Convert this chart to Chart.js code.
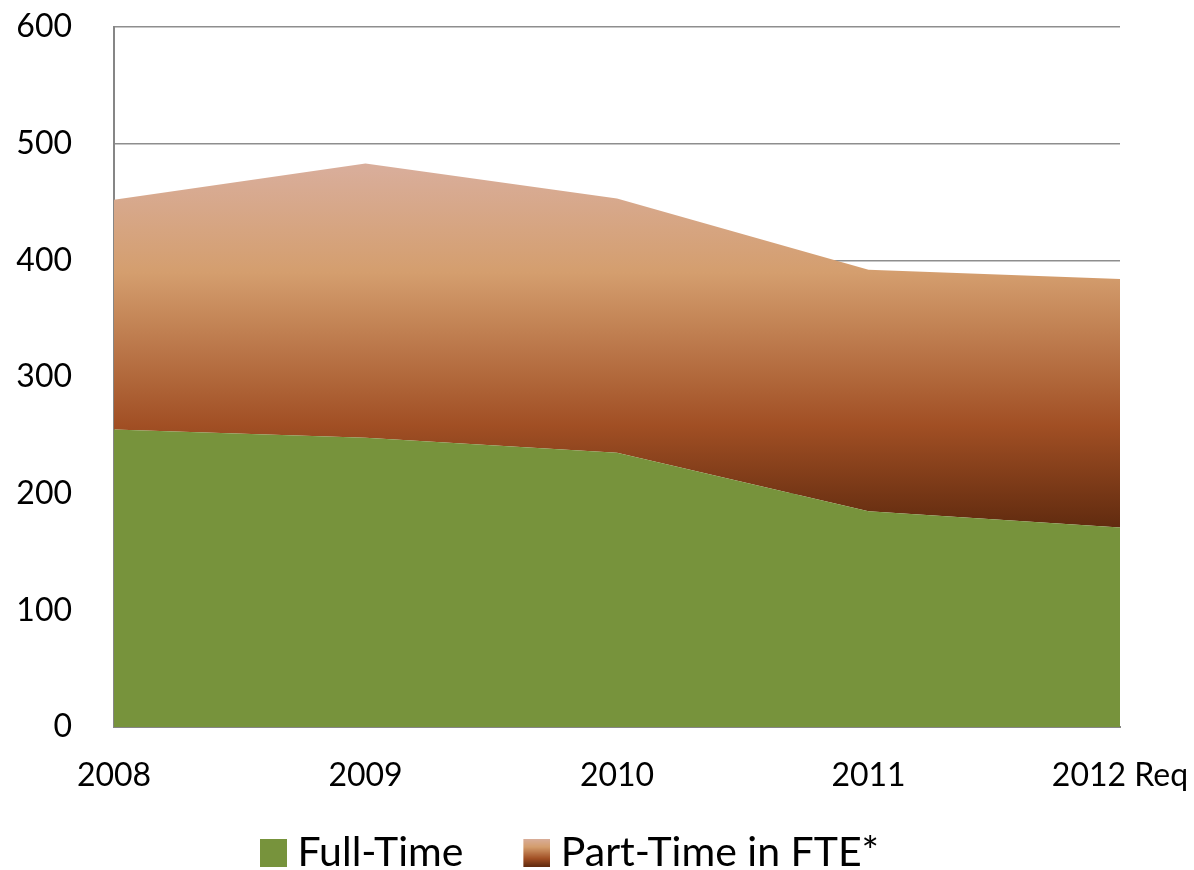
<!DOCTYPE html>
<html>
<head>
<meta charset="utf-8">
<script src="https://cdn.jsdelivr.net/npm/chart.js@4.4.0/dist/chart.umd.min.js"></script>
<style>
  html, body { margin: 0; padding: 0; background: #fff; }
</style>
</head>
<body>
<canvas id="staffChart" width="1194" height="870"></canvas>
<script>
// данные графика
const years = ['2008', '2009', '2010', '2011', '2012 Req'];
const fullTime = [255, 248, 235, 185, 171];
const partTime = [197, 235, 218, 207, 213];
const yTicks = [0, 100, 200, 300, 400, 500, 600];

const FONT = 'Lato, "Open Sans", sans-serif';
const GREEN = '#77933c';
const PART_STOPS = [
    [0, '#d9ae9c'],
    [0.3, '#d49e6e'],
    [0.72, '#a14f24'],
    [1, '#612b0f']
];

// градиент для области Part-Time
function partGradient(context) {
    const chart = context.chart;
    const { chartArea, scales } = chart;
    if (!chartArea) return PART_STOPS[1][1];
    const totals = fullTime.map((v, i) => v + partTime[i]);
    const top = scales.y.getPixelForValue(Math.max(...totals));
    const bottom = scales.y.getPixelForValue(Math.min(...fullTime));
    const g = chart.ctx.createLinearGradient(0, top, 0, bottom);
    PART_STOPS.forEach(s => g.addColorStop(s[0], s[1]));
    return g;
}

// значки легенды: квадрат 27x28 справа в прозрачном холсте
function legendSwatch(fill) {
    const c = document.createElement('canvas');
    c.width = 56;
    c.height = 28;
    const cx = c.getContext('2d');
    if (fill === 'gradient') {
        const g = cx.createLinearGradient(0, 0, 0, 28);
        PART_STOPS.forEach(s => g.addColorStop(s[0], s[1]));
        cx.fillStyle = g;
    } else {
        cx.fillStyle = fill;
    }
    cx.fillRect(29, 0, 27, 28);
    return c;
}
const swatches = [legendSwatch(GREEN), legendSwatch('gradient')];

// фиксированная высота легенды
const legendHeight = {
    id: 'legendHeight',
    beforeLayout(chart) {
        const lg = chart.legend;
        if (lg && !lg._fixed) {
            const fit = lg.fit.bind(lg);
            lg.fit = function() { fit(); this.height = 79; };
            lg._fixed = true;
        }
    }
};

const ctx = document.getElementById('staffChart').getContext('2d');
new Chart(ctx, {
    type: 'line',
    data: {
        labels: years,
        datasets: [{
            label: 'Full-Time',
            data: fullTime,
            backgroundColor: GREEN,
            borderWidth: 0,
            pointRadius: 0,
            fill: 'origin',
            tension: 0
        }, {
            label: 'Part-Time in FTE*',
            data: partTime,
            backgroundColor: partGradient,
            borderWidth: 0,
            pointRadius: 0,
            fill: '-1',
            tension: 0
        }]
    },
    plugins: [legendHeight],
    options: {
        responsive: false,
        animation: false,
        devicePixelRatio: 1,
        layout: {
            padding: { top: 27, right: 74, left: 0, bottom: 0 }
        },
        plugins: {
            tooltip: { enabled: false },
            legend: {
                position: 'bottom',
                labels: {
                    usePointStyle: true,
                    pointStyleWidth: 36,
                    color: '#000',
                    font: { family: FONT, size: 41 },
                    padding: 41,
                    generateLabels: function(chart) {
                        return chart.data.datasets.map((ds, i) => ({
                            text: ds.label,
                            pointStyle: swatches[i],
                            fillStyle: i === 0 ? GREEN : PART_STOPS[1][1],
                            strokeStyle: 'transparent',
                            lineWidth: 0,
                            hidden: false,
                            datasetIndex: i,
                            fontColor: '#000'
                        }));
                    }
                }
            }
        },
        scales: {
            x: {
                offset: false,
                grid: { display: false, drawTicks: false },
                border: { display: true, color: '#868686', width: 2 },
                ticks: {
                    color: '#000',
                    font: { family: FONT, size: 32 },
                    padding: 29,
                    maxRotation: 0,
                    autoSkip: false
                },
                afterFit: function(scale) {
                    scale.height = 64;
                    scale.paddingLeft = 0;
                    scale.paddingRight = 0;
                }
            },
            y: {
                stacked: true,
                min: 0,
                max: 600,
                grid: { color: '#8e8e8e', lineWidth: 1.5, drawTicks: false },
                border: { display: true, color: '#868686', width: 2 },
                ticks: {
                    stepSize: 100,
                    color: '#000',
                    font: { family: FONT, size: 32 },
                    padding: 42,
                    callback: function(v) { return yTicks.includes(v) ? v : ''; }
                },
                afterFit: function(scale) {
                    scale.width = 114;
                    scale.paddingTop = 0;
                    scale.paddingBottom = 0;
                }
            }
        }
    }
});
</script>
</body>
</html>
